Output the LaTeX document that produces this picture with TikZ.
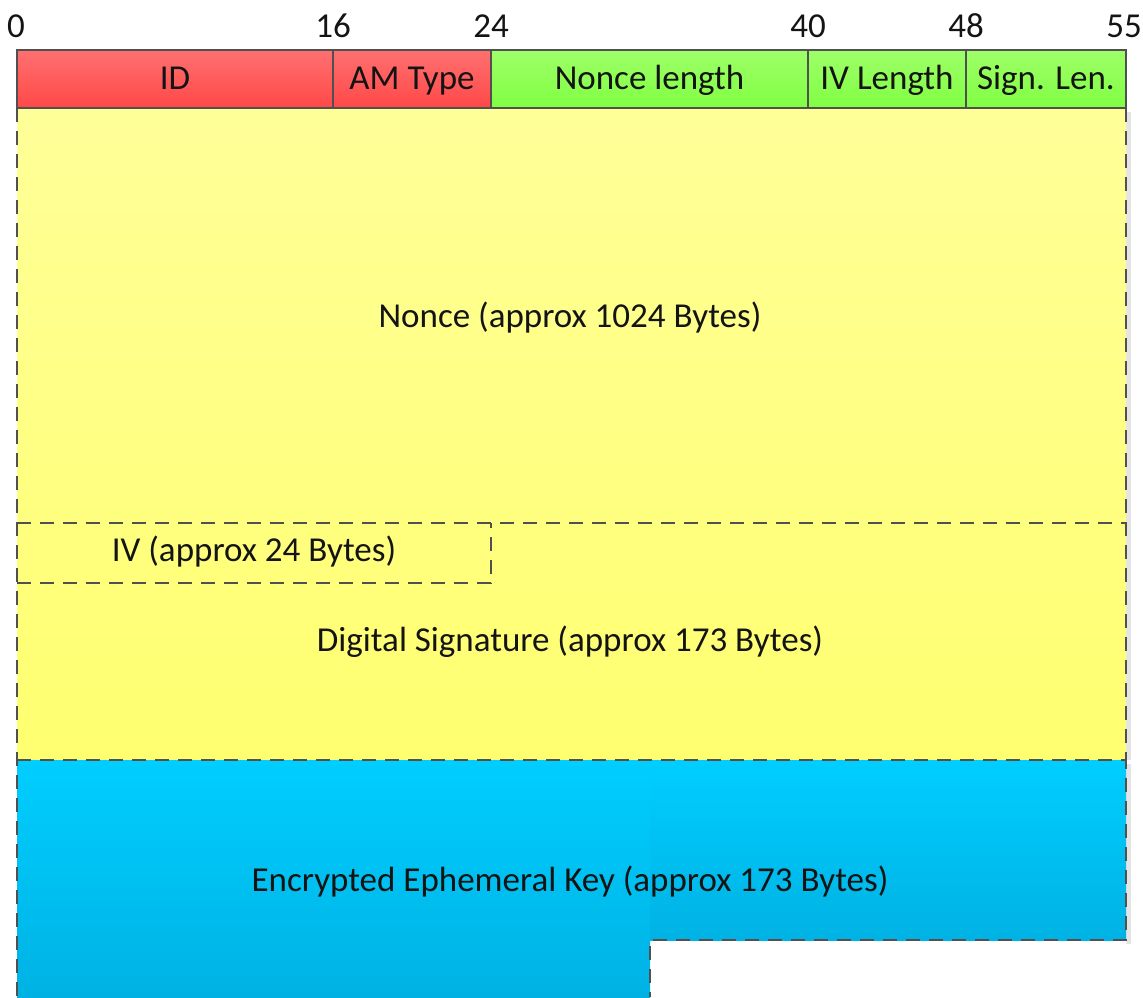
\documentclass[tikz,border=0pt]{standalone}
\usepackage{fontspec}
\setmainfont{Carlito}
\definecolor{redtop}{RGB}{255,112,112}
\definecolor{redbot}{RGB}{255,72,72}
\definecolor{greentop}{RGB}{158,255,104}
\definecolor{greenbot}{RGB}{128,255,66}
\definecolor{yeltop}{RGB}{255,255,152}
\definecolor{yelbot}{RGB}{255,255,112}
\definecolor{bluetop}{RGB}{0,206,255}
\definecolor{bluebot}{RGB}{0,178,228}
\definecolor{edge}{RGB}{80,80,80}
\begin{document}
\begin{tikzpicture}[x=1pt,y=-1pt,
  lbl/.style={font=\fontsize{35}{42}\selectfont, text=black!92, inner sep=0pt},
  field/.style={lbl, draw=edge, line width=1.1pt, outer sep=0pt,
    minimum height=58pt, anchor=north west, text height=26pt, text depth=5pt},
  redf/.style={field, top color=redtop, bottom color=redbot},
  greenf/.style={field, top color=greentop, bottom color=greenbot},
  bound/.style={draw=edge, line width=2pt, dash pattern=on 14pt off 9pt},
  tick/.style={lbl, anchor=base}]
\useasboundingbox (0,0) rectangle (1143,997);

% payload area (nonce, IV, signature)
\fill[black!10] (1126,112) rectangle (1131,760);
\shade[top color=yeltop, bottom color=yelbot] (17,108) rectangle (1126,760);

% encrypted key area, stepped at the bottom
\fill[black!10] (1126,764) rectangle (1131,944);
\shade[top color=bluetop, bottom color=bluebot] (17,760) rectangle (650,997);
\shade[top color=bluetop, bottom color=bluebot] (650,760) rectangle (1126,940);

% dashed boundaries
\draw[bound] (17,108) -- (17,997);
\draw[bound] (1126,108) -- (1126,760);
\draw[bound] (17,523) -- (1126,523);
\draw[bound] (17,583) -- (491,583) -- (491,523);
\draw[bound] (17,760) -- (1126,760) -- (1126,940) -- (650,940) -- (650,997);

% header fields
\node[redf, minimum width=316pt] (id) at (17,50) {ID};
\node[redf, minimum width=158pt] (amtype) at (333,50) {AM Type};
\node[greenf, minimum width=317pt] (noncelen) at (491,50) {Nonce length};
\node[greenf, minimum width=158pt] (ivlen) at (808,50) {IV Length};
\node[greenf, minimum width=160pt] (signlen) at (966,50) {Sign. Len.};

% bit offsets
\node[tick] (b0) at (16,37) {0};
\node[tick] (b16) at (333,37) {16};
\node[tick] (b24) at (491,37) {24};
\node[tick] (b40) at (808,37) {40};
\node[tick] (b48) at (966,37) {48};
\node[tick] (b55) at (1124,37) {55};

% region labels
\node[lbl] (nonce) at (570,318) {Nonce (approx 1024 Bytes)};
\node[lbl] (iv) at (254,552) {IV (approx 24 Bytes)};
\node[lbl] (sig) at (570,642) {Digital Signature (approx 173 Bytes)};
\node[lbl] (key) at (570,882) {Encrypted Ephemeral Key (approx 173 Bytes)};
\end{tikzpicture}
\end{document}
